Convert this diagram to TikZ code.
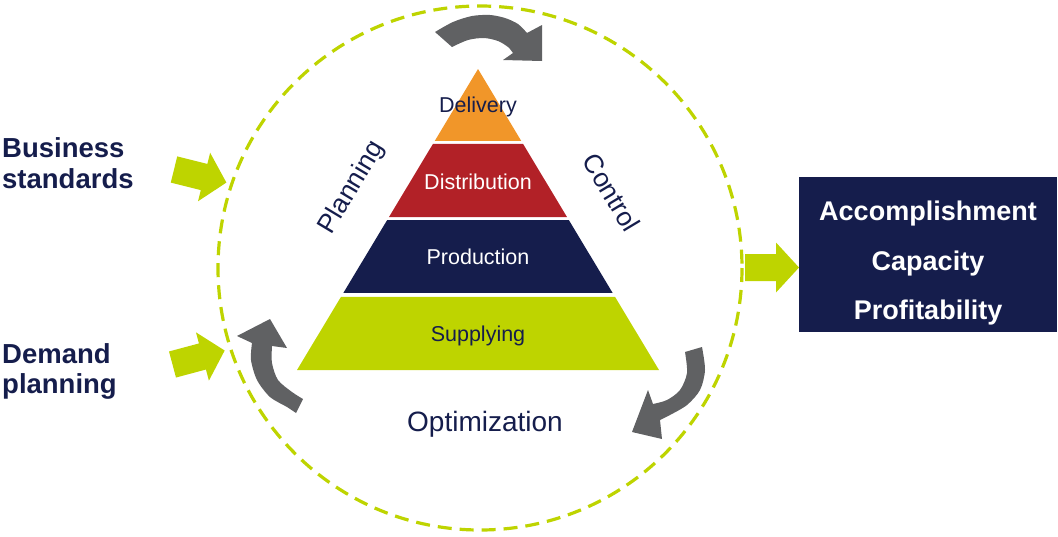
\documentclass[tikz,border=0pt]{standalone}
\usepackage{fontspec}
\setmainfont{Liberation Sans}
\usetikzlibrary{calc}

\definecolor{navyblue}{RGB}{21,29,76}
\definecolor{layerred}{RGB}{178,33,39}
\definecolor{layerorange}{RGB}{241,150,41}
\definecolor{lime}{RGB}{190,212,0}
\definecolor{arrowgray}{RGB}{96,97,99}

\begin{document}
\begin{tikzpicture}[x=1pt,y=-1pt,
  layerlabel/.style={font=\fontsize{21.5}{25}\selectfont, anchor=base, inner sep=0},
  sidelabel/.style={font=\fontsize{26.5}{30}\selectfont, text=navyblue, inner sep=0},
  inputlabel/.style={font=\bfseries\fontsize{27.5}{32}\selectfont, text=navyblue, anchor=base west, inner sep=0},
  boxtext/.style={font=\bfseries\fontsize{27}{30}\selectfont, text=white, anchor=base, inner sep=0},
  blockarrow/.pic={\fill[lime] (0,-13.5) -- (31,-13.5) -- (31,-25) -- (54,0)
                   -- (31,25) -- (31,13.5) -- (0,13.5) -- cycle;}
]
\useasboundingbox (0,0) rectangle (1058,536);

% dashed cycle around the pyramid
\draw[lime, line width=3.2pt, dash pattern=on 14pt off 8pt] (480,268) circle [radius=262];

% pyramid layers
\coordinate (apex) at (478,69);
\coordinate (bl) at (297,370);
\coordinate (br) at (659,370);
\fill[layerorange] (apex) -- ($(apex)!0.239!(br)$) -- ($(apex)!0.239!(bl)$) -- cycle;
\fill[layerred] ($(apex)!0.249!(bl)$) -- ($(apex)!0.249!(br)$)
  -- ($(apex)!0.492!(br)$) -- ($(apex)!0.492!(bl)$) -- cycle;
\fill[navyblue] ($(apex)!0.502!(bl)$) -- ($(apex)!0.502!(br)$)
  -- ($(apex)!0.744!(br)$) -- ($(apex)!0.744!(bl)$) -- cycle;
\fill[lime] ($(apex)!0.757!(bl)$) -- ($(apex)!0.757!(br)$) -- (br) -- (bl) -- cycle;

\node[layerlabel, text=navyblue] (delivery) at (478,112.3) {Delivery};
\node[layerlabel, text=white] (distribution) at (478,189) {Distribution};
\node[layerlabel, text=white] (production) at (478,264) {Production};
\node[layerlabel, text=navyblue] (supplying) at (478,341.7) {Supplying};

% labels along the cycle
\node[sidelabel, rotate=59] (planning) at (352,188) {Planning};
\node[sidelabel, rotate=-59] (control) at (611.5,192.5) {Control};
\node[sidelabel, anchor=base, font=\fontsize{28}{30}\selectfont] (optimization) at (485,431) {Optimization};

% curved gray arrows of the cycle
\fill[arrowgray] plot[smooth] coordinates {(435,32) (453,22) (472,16) (490,15) (505,18) (518,24) (527,33)}
  -- (542,25) -- (542,61) -- (503,60) -- (513,53)
  -- plot[smooth] coordinates {(513,53) (508,47) (498,41) (484,38) (468,40) (452,47)} -- cycle;
\fill[arrowgray] plot[smooth] coordinates {(702,347) (705,370) (700,390) (687,405) (670,415) (660,420)}
  -- (662,439) -- (632,432) -- (648,390) -- (653,404)
  -- plot[smooth] coordinates {(653,404) (667,400) (680,390) (687,373) (685,352)} -- cycle;
\fill[arrowgray] (270,319) -- (287,348) -- (272,346)
  -- plot[smooth] coordinates {(272,346) (272,363) (278,380) (292,392) (303,399)}
  -- plot[smooth] coordinates {(296,413) (287,407) (270,397) (257,380) (251,360) (252,343)}
  -- (237,336) -- cycle;

% inputs
\node[inputlabel] (business1) at (2,157) {Business};
\node[inputlabel] (business2) at (2,188) {standards};
\node[inputlabel] (demand1) at (2,363) {Demand};
\node[inputlabel] (demand2) at (2,393) {planning};
\pic[rotate=-14] at (174,169.5) {blockarrow};
\pic[rotate=15] at (172.5,364.5) {blockarrow};

% results
\pic at (745,267.5) {blockarrow};
\node[fill=navyblue, minimum width=258pt, minimum height=155pt, inner sep=0, anchor=north west] (results) at (799,177) {};
\node[boxtext] (accomplishment) at (928,220) {Accomplishment};
\node[boxtext] (capacity) at (928,270) {Capacity};
\node[boxtext] (profitability) at (928,319) {Profitability};
\end{tikzpicture}
\end{document}
